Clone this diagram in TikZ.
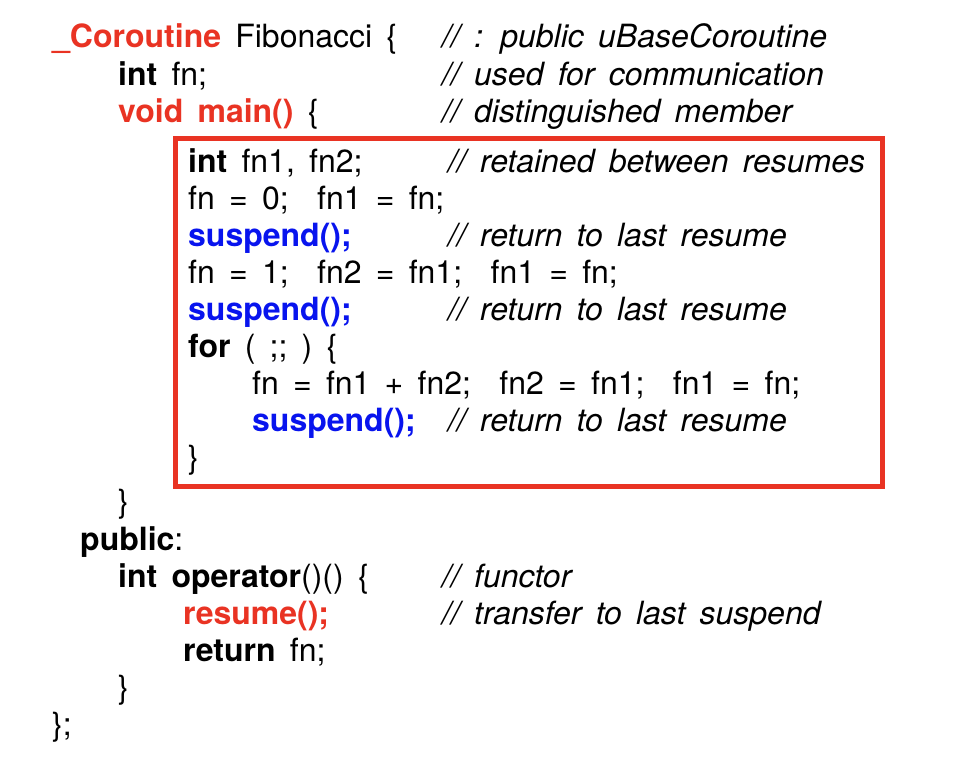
\documentclass[tikz,border=0pt]{standalone}
\usepackage{fontspec}
\setmainfont{TeX Gyre Heros}[WordSpace=1.6]
\definecolor{kwred}{RGB}{233,51,35}
\definecolor{kwblue}{RGB}{8,20,238}
\newcommand{\kw}[1]{\textbf{#1}}

\begin{document}
\begin{tikzpicture}[x=1pt, y=-1pt,
  code/.style={anchor=base west, inner sep=0pt, font=\fontsize{32}{36}\selectfont},
  cmt/.style={code, font=\fontsize{32}{36}\selectfont\itshape}]
\useasboundingbox (0,0) rectangle (970,784);
% class head
\node[code] (head) at (52,48) {\textcolor{kwred}{\kw{\_Coroutine}} Fibonacci \{};
\node[cmt] (chead) at (442,48) {// : public uBaseCoroutine};
\node[code] (fn) at (118,85) {\kw{int} fn;};
\node[cmt] (cfn) at (442,85) {// used for communication};
\node[code] (main) at (118,122) {\textcolor{kwred}{\kw{void main()}} \{};
\node[cmt] (cmain) at (442,122) {// distinguished member};
% body of main
\node[code] (b1) at (188,172) {\kw{int} fn1, fn2;};
\node[cmt] (cb1) at (448,172) {// retained between resumes};
\node[code] (b2) at (188,209) {fn = 0;~~fn1 = fn;};
\node[code] (b3) at (188,246) {\textcolor{kwblue}{\kw{suspend();}}};
\node[cmt] (cb3) at (448,246) {// return to last resume};
\node[code] (b4) at (188,283) {fn = 1;~~fn2 = fn1;~~fn1 = fn;};
\node[code] (b5) at (188,320) {\textcolor{kwblue}{\kw{suspend();}}};
\node[cmt] (cb5) at (448,320) {// return to last resume};
\node[code] (b6) at (188,357) {\kw{for} ( ;; ) \{};
\node[code] (b7) at (252,394) {fn = fn1 + fn2;~~fn2 = fn1;~~fn1 = fn;};
\node[code] (b8) at (252,431) {\textcolor{kwblue}{\kw{suspend();}}};
\node[cmt] (cb8) at (448,431) {// return to last resume};
\node[code] (b9) at (188,468) {\}};
\draw[kwred, line width=5pt] (175,138) rectangle (882,486);
% rest of class
\node[code] (endmain) at (118,512) {\}};
\node[code] (pub) at (80,550) {\kw{public}:};
\node[code] (op) at (118,587) {\kw{int operator}()() \{};
\node[cmt] (cop) at (442,587) {// functor};
\node[code] (res) at (183,624) {\textcolor{kwred}{\kw{resume();}}};
\node[cmt] (cres) at (442,624) {// transfer to last suspend};
\node[code] (ret) at (183,661) {\kw{return} fn;};
\node[code] (endop) at (118,698) {\}};
\node[code] (endcls) at (52,735) {\};};
\end{tikzpicture}
\end{document}
